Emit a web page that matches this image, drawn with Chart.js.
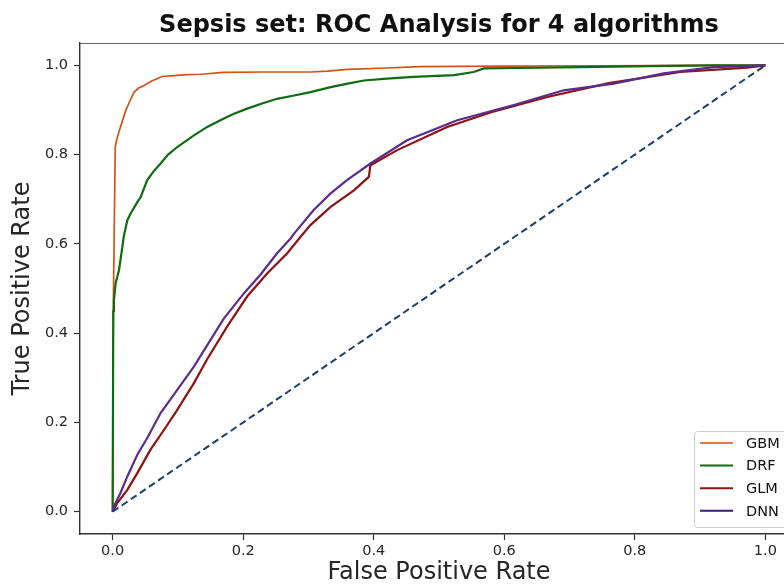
<!DOCTYPE html>
<html>
<head>
<meta charset="utf-8">
<title>Sepsis set: ROC Analysis</title>
<script src="https://cdn.jsdelivr.net/npm/chart.js@4.4.0/dist/chart.umd.min.js"></script>
<style>
    html, body { margin: 0; padding: 0; background: #fff; overflow: hidden; }
    #rocChart { display: block; }
</style>
</head>
<body>
<canvas id="rocChart" width="830" height="585"></canvas>
<script>
// Data (false positive rate / true positive rate)
const chartTitle = 'Sepsis set: ROC Analysis for 4 algorithms';
const xAxisTitle = 'False Positive Rate';
const yAxisTitle = 'True Positive Rate';
const tickValues = [0, 0.2, 0.4, 0.6, 0.8, 1.0];

const gbmFpr = [0, 0.001, 0.003, 0.004, 0.006, 0.009, 0.012, 0.016, 0.020, 0.025, 0.029, 0.033, 0.040, 0.048, 0.060, 0.076, 0.095, 0.114, 0.135, 0.170, 0.230, 0.303, 0.329, 0.360, 0.420, 0.470, 0.600, 0.750, 0.900, 1.0];
const gbmTpr = [0, 0.450, 0.700, 0.817, 0.832, 0.848, 0.862, 0.880, 0.899, 0.915, 0.928, 0.940, 0.949, 0.955, 0.965, 0.975, 0.977, 0.979, 0.980, 0.984, 0.985, 0.985, 0.987, 0.991, 0.994, 0.997, 0.998, 0.999, 1.0, 1.0];

const drfFpr = [0, 0.001, 0.002, 0.0046, 0.0097, 0.015, 0.017, 0.0225, 0.0276, 0.038, 0.043, 0.053, 0.063, 0.0735, 0.085, 0.099, 0.1245, 0.145, 0.165, 0.185, 0.206, 0.230, 0.252, 0.280, 0.303, 0.334, 0.360, 0.385, 0.420, 0.461, 0.523, 0.553, 0.569, 0.620, 0.717, 0.820, 0.920, 1.0];
const drfTpr = [0, 0.450, 0.474, 0.512, 0.541, 0.594, 0.616, 0.653, 0.668, 0.694, 0.705, 0.743, 0.763, 0.780, 0.800, 0.817, 0.843, 0.862, 0.877, 0.891, 0.903, 0.915, 0.925, 0.933, 0.940, 0.951, 0.959, 0.966, 0.970, 0.974, 0.978, 0.985, 0.993, 0.994, 0.996, 0.998, 1.0, 1.0];

const glmFpr = [0, 0.007, 0.0225, 0.038, 0.058, 0.0786, 0.099, 0.1245, 0.145, 0.1756, 0.206, 0.237, 0.2675, 0.288, 0.303, 0.334, 0.3696, 0.3925, 0.395, 0.436, 0.5125, 0.580, 0.666, 0.760, 0.870, 0.972, 1.0];
const glmTpr = [0, 0.019, 0.049, 0.087, 0.139, 0.183, 0.228, 0.288, 0.342, 0.415, 0.482, 0.534, 0.579, 0.616, 0.642, 0.683, 0.720, 0.750, 0.776, 0.810, 0.862, 0.895, 0.929, 0.960, 0.985, 0.995, 1.0];

const dnnFpr = [0, 0.002, 0.012, 0.0225, 0.038, 0.053, 0.0735, 0.099, 0.1245, 0.150, 0.170, 0.201, 0.227, 0.252, 0.2726, 0.278, 0.308, 0.334, 0.359, 0.395, 0.451, 0.528, 0.6146, 0.691, 0.768, 0.844, 0.921, 1.0];
const dnnTpr = [0, 0.012, 0.042, 0.079, 0.128, 0.165, 0.221, 0.273, 0.325, 0.385, 0.432, 0.489, 0.532, 0.579, 0.612, 0.623, 0.676, 0.713, 0.743, 0.780, 0.832, 0.877, 0.911, 0.944, 0.959, 0.982, 0.996, 1.0];

const chanceFpr = [0, 1];
const chanceTpr = [0, 1];

const seriesNames = ['GBM', 'DRF', 'GLM', 'DNN'];
const seriesColors = ['#cd5515', '#0f6b12', '#8e1212', '#5b2c90'];
const legendLineColors = ['#cd5515', '#0f6b12', '#8e1212', '#3a1a7a'];

const toPoints = (xs, ys) => xs.map((x, i) => ({ x: x, y: ys[i] }));

const TEXT = '#262626';
const SPINE = '#333333';

// Helpers: legend box, title, top spine
const ChartDecorations = {
    id: 'decorations',
    afterDraw(chart) {
        const ctx = chart.ctx;
        const area = chart.chartArea;
        ctx.save();

        // top spine
        ctx.strokeStyle = '#666';
        ctx.lineWidth = 1.2;
        ctx.beginPath();
        ctx.moveTo(area.left, area.top + 0.5);
        ctx.lineTo(area.right, area.top + 0.5);
        ctx.stroke();

        // title
        ctx.fillStyle = '#111';
        ctx.font = 'bold 24px "DejaVu Sans"';
        ctx.textAlign = 'center';
        ctx.textBaseline = 'middle';
        ctx.fillText(chartTitle, (area.left + area.right) / 2, 26);

        // legend inside the axes, lower right
        const box = { x: 694, y: 431, w: 120, h: 96 };
        ctx.fillStyle = 'rgba(255,255,255,0.85)';
        ctx.strokeStyle = '#cccccc';
        ctx.lineWidth = 1;
        ctx.beginPath();
        ctx.roundRect(box.x + 0.5, box.y + 0.5, box.w, box.h, 3);
        ctx.fill();
        ctx.stroke();

        ctx.font = '14.5px "DejaVu Sans"';
        ctx.textAlign = 'left';
        ctx.textBaseline = 'middle';
        seriesNames.forEach((name, i) => {
            const y = 443 + i * 22.6;
            ctx.strokeStyle = legendLineColors[i];
            ctx.lineWidth = i === 0 ? 1.5 : 2;
            ctx.beginPath();
            ctx.moveTo(700, y);
            ctx.lineTo(733, y);
            ctx.stroke();
            ctx.fillStyle = '#111';
            ctx.fillText(name, 746, y + 1);
        });

        ctx.restore();
    }
};

const axisCommon = {
    type: 'linear',
    min: -0.05,
    max: 1.05,
    grid: {
        drawOnChartArea: false,
        drawTicks: true,
        tickLength: 6,
        tickColor: SPINE,
        tickWidth: 1.2
    },
    border: { display: true, color: SPINE, width: 1.4 },
    ticks: {
        color: TEXT,
        font: { family: '"DejaVu Sans"', size: 14.5 },
        callback: value => value.toFixed(1)
    },
    afterBuildTicks: scale => {
        scale.ticks = tickValues.map(v => ({ value: v }));
    }
};

const ctx = document.getElementById('rocChart').getContext('2d');
const rocChart = new Chart(ctx, {
    type: 'line',
    data: {
        datasets: [{
            label: 'GBM',
            data: toPoints(gbmFpr, gbmTpr),
            borderColor: seriesColors[0],
            borderWidth: 1.7,
            order: 5
        }, {
            label: 'DRF',
            data: toPoints(drfFpr, drfTpr),
            borderColor: seriesColors[1],
            borderWidth: 2.2,
            order: 4
        }, {
            label: 'GLM',
            data: toPoints(glmFpr, glmTpr),
            borderColor: seriesColors[2],
            borderWidth: 2.2,
            order: 3
        }, {
            label: 'DNN',
            data: toPoints(dnnFpr, dnnTpr),
            borderColor: seriesColors[3],
            borderWidth: 2.2,
            order: 2
        }, {
            label: 'chance',
            data: toPoints(chanceFpr, chanceTpr),
            borderColor: '#173f6e',
            borderWidth: 2,
            borderDash: [7, 4],
            order: 1
        }]
    },
    options: {
        responsive: false,
        animation: false,
        events: [],
        elements: {
            point: { radius: 0 },
            line: { tension: 0, fill: false }
        },
        layout: { padding: { left: 0, right: 32, top: 43, bottom: 0 } },
        plugins: {
            legend: { display: false },
            title: { display: false },
            tooltip: { enabled: false }
        },
        scales: {
            x: {
                ...axisCommon,
                ticks: { ...axisCommon.ticks, padding: 3, maxRotation: 0 },
                title: {
                    display: true,
                    text: xAxisTitle,
                    color: TEXT,
                    font: { family: '"DejaVu Sans"', size: 24, lineHeight: 1 },
                    padding: { top: 0, bottom: 0 }
                },
                afterFit: scale => { scale.height = 51; }
            },
            y: {
                ...axisCommon,
                ticks: { ...axisCommon.ticks, padding: 6 },
                title: {
                    display: true,
                    text: yAxisTitle,
                    color: TEXT,
                    font: { family: '"DejaVu Sans"', size: 24, lineHeight: 1 },
                    padding: { top: 11, bottom: 0 }
                },
                afterFit: scale => { scale.width = 80; }
            }
        }
    },
    plugins: [ChartDecorations]
});
</script>
</body>
</html>
